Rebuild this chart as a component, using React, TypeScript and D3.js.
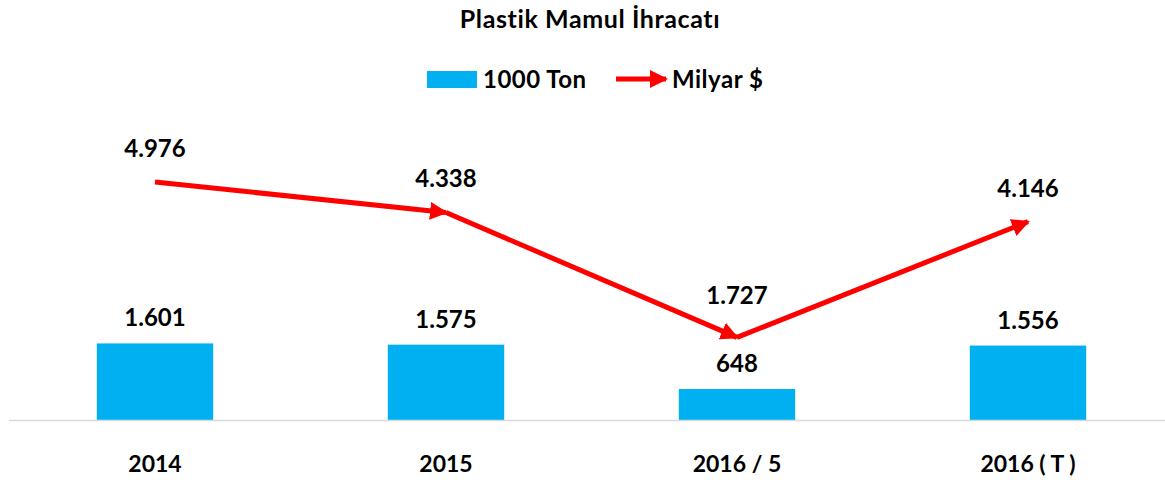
import React, { useRef, useEffect } from 'react'
import { select, scaleBand, scaleLinear } from 'd3'

const categories = ['2014', '2015', '2016 / 5', '2016 ( T )']
const tonValues = [1601, 1575, 648, 1556]
const tonLabels = ['1.601', '1.575', '648', '1.556']
const usdValues = [4.976, 4.338, 1.727, 4.146]
const usdLabels = ['4.976', '4.338', '1.727', '4.146']

const App = () => {
  const svgRef = useRef<SVGSVGElement>(null)

  useEffect(() => {
    if (!svgRef.current) return
    const width = 1165
    const height = 480
    const font = 'Lato, "Open Sans", sans-serif'
    const svg = select(svgRef.current)
    svg.selectAll('*').remove()
    svg.attr('width', width).attr('height', height)

    const x = scaleBand()
      .domain(categories)
      .range([9.5, 1173.5])
      .paddingInner(0.6)
      .paddingOuter(0.3)
    const yTon = scaleLinear().domain([0, 6000]).range([420, 133])
    const yUsd = scaleLinear().domain([0, 6]).range([420, 133])

    // arrow head
    svg.append('defs').append('marker')
      .attr('id', 'arrowHead')
      .attr('markerUnits', 'userSpaceOnUse')
      .attr('viewBox', '0 0 18 18')
      .attr('markerWidth', 18)
      .attr('markerHeight', 18)
      .attr('refX', 16)
      .attr('refY', 9)
      .attr('orient', 'auto')
      .append('path')
      .attr('d', 'M0,0 L18,9 L0,18 Z')
      .attr('fill', '#ff0000')

    // title
    svg.append('text')
      .attr('x', 590).attr('y', 28)
      .attr('text-anchor', 'middle')
      .attr('font-family', font).attr('font-weight', 'bold')
      .attr('font-size', 25).attr('letter-spacing', 0.6)
      .text('Plastik Mamul İhracatı')

    // legend
    const lg = svg.append('g')
    lg.append('rect').attr('x', 427).attr('y', 71).attr('width', 50).attr('height', 17).attr('fill', '#00b0f0')
    lg.append('text').attr('x', 483).attr('y', 88)
      .attr('font-family', font).attr('font-weight', 'bold').attr('font-size', 24)
      .attr('letter-spacing', 0.5)
      .text('1000 Ton')
    lg.append('line').attr('x1', 616).attr('x2', 666).attr('y1', 79).attr('y2', 79)
      .attr('stroke', '#ff0000').attr('stroke-width', 5)
      .attr('marker-end', 'url(#arrowHead)')
    lg.append('text').attr('x', 672).attr('y', 88)
      .attr('font-family', font).attr('font-weight', 'bold').attr('font-size', 24)
      .attr('letter-spacing', 0.5)
      .text('Milyar $')

    // bars
    svg.append('g').selectAll('rect')
      .data(tonValues)
      .join('rect')
      .attr('x', (d, i) => x(categories[i]))
      .attr('y', d => yTon(d))
      .attr('width', x.bandwidth())
      .attr('height', d => yTon(0) - yTon(d))
      .attr('fill', '#00b0f0')

    // baseline
    svg.append('line')
      .attr('x1', 9).attr('x2', width)
      .attr('y1', 420.5).attr('y2', 420.5)
      .attr('stroke', '#d9d9d9').attr('stroke-width', 1.5)

    const cx = (i: number) => x(categories[i]) + x.bandwidth() / 2

    // line segments, each with its own arrow
    for (let i = 0; i < usdValues.length - 1; i++) {
      svg.append('line')
        .attr('x1', cx(i)).attr('y1', yUsd(usdValues[i]))
        .attr('x2', cx(i + 1)).attr('y2', yUsd(usdValues[i + 1]))
        .attr('stroke', '#ff0000').attr('stroke-width', 5)
        .attr('marker-end', 'url(#arrowHead)')
    }

    const labelStyle = (sel: any) => sel
      .attr('text-anchor', 'middle')
      .attr('font-family', font).attr('font-weight', 'bold').attr('font-size', 24)
      .attr('fill', '#000')

    svg.append('g').selectAll('text')
      .data(tonLabels)
      .join('text')
      .attr('x', (d, i) => cx(i))
      .attr('y', (d, i) => yTon(tonValues[i]) - 17)
      .call(labelStyle)
      .text(d => d)

    svg.append('g').selectAll('text')
      .data(usdLabels)
      .join('text')
      .attr('x', (d, i) => cx(i))
      .attr('y', (d, i) => yUsd(usdValues[i]) - (i === 2 ? 33 : 25))
      .call(labelStyle)
      .text(d => d)

    // category labels
    svg.append('g').selectAll('text')
      .data(categories)
      .join('text')
      .attr('x', (d, i) => cx(i))
      .attr('y', 472)
      .call(labelStyle)
      .attr('font-size', 23)
      .text(d => d)
  }, [])

  return (
    <svg ref={svgRef} style={{ position: 'absolute', top: 0, left: 0, background: '#fff' }} />
  )
}

export default App
